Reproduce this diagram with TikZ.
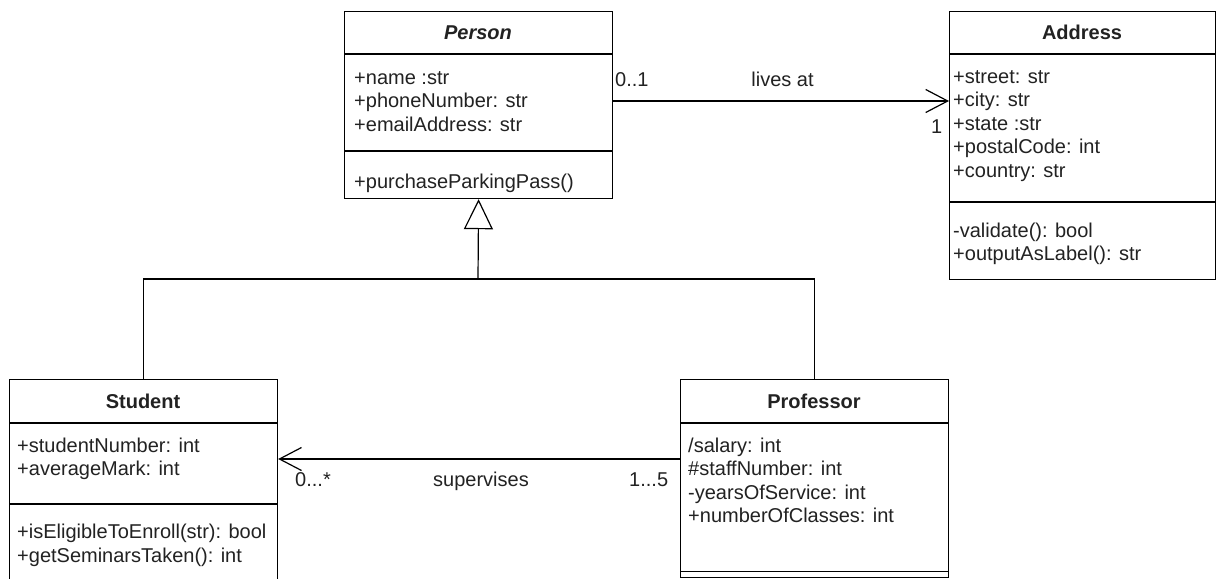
\documentclass[tikz,border=0pt]{standalone}
\usepackage{fontspec}
\setmainfont{Liberation Sans}
\usetikzlibrary{arrows.meta}
\definecolor{ink}{HTML}{222222}
\tikzset{
  classbox/.style={draw=black, line width=1.2pt, inner sep=0pt, anchor=north west},
  divider/.style={draw=black, line width=1.2pt},
  member/.style={anchor=base west, inner sep=0pt, text=ink, font=\fontsize{20}{24}\selectfont},
  classname/.style={anchor=base, inner sep=0pt, text=ink, font=\fontsize{20}{24}\selectfont\bfseries},
  mult/.style={anchor=base west, inner sep=0pt, text=ink, font=\fontsize{20}{24}\selectfont},
  rolename/.style={anchor=base, inner sep=0pt, text=ink, font=\fontsize{20}{24}\selectfont},
  assoc/.style={draw=black, line width=1.2pt, -{Straight Barb[length=22pt,width=23pt]}},
  inherit/.style={draw=black, line width=1.2pt, -{Triangle[open,length=30pt,width=29pt,fill=white]}},
  tree/.style={draw=black, line width=1.2pt},
}
\begin{document}
\begin{tikzpicture}[x=1pt,y=-1pt]
\clip (0,0) rectangle (1217,578);
\fill[white] (0,0) rectangle (1217,578);

% ---------- Person (abstract) ----------
\node[classbox, minimum width=268pt, minimum height=187pt] (person) at (344,11) {};
\draw[divider] (person.west |- 0,54) -- (person.east |- 0,54);
\draw[divider] (person.west |- 0,151) -- (person.east |- 0,151);
\node[classname, font=\fontsize{20}{24}\selectfont\bfseries\itshape] (personT) at (478,40) {Person};
\node[member] (p1) at (354,84) {+name :str};
\node[member] (p2) at (354,107.5) {+phoneNumber: str};
\node[member] (p3) at (354,131) {+emailAddress: str};
\node[member] (p4) at (354,188) {+purchaseParkingPass()};

% ---------- Address ----------
\node[classbox, minimum width=266pt, minimum height=268pt] (address) at (949,11) {};
\draw[divider] (address.west |- 0,54) -- (address.east |- 0,54);
\draw[divider] (address.west |- 0,202) -- (address.east |- 0,202);
\node[classname] (addressT) at (1082,40) {Address};
\node[member] (a1) at (953,83) {+street: str};
\node[member] (a2) at (953,106.5) {+city: str};
\node[member] (a3) at (953,130) {+state :str};
\node[member] (a4) at (953,153.5) {+postalCode: int};
\node[member] (a5) at (953,177) {+country: str};
\node[member] (a6) at (953,237) {-validate(): bool};
\node[member] (a7) at (953,260.5) {+outputAsLabel(): str};

% ---------- Student ----------
\node[classbox, minimum width=268pt, minimum height=240pt] (student) at (9,379) {};
\draw[divider] (student.west |- 0,423) -- (student.east |- 0,423);
\draw[divider] (student.west |- 0,504) -- (student.east |- 0,504);
\node[classname] (studentT) at (143,408) {Student};
\node[member] (s1) at (17,452) {+studentNumber: int};
\node[member] (s2) at (17,475.5) {+averageMark: int};
\node[member] (s3) at (17,538.5) {+isEligibleToEnroll(str): bool};
\node[member] (s4) at (17,562) {+getSeminarsTaken(): int};

% ---------- Professor ----------
\node[classbox, minimum width=268pt, minimum height=198pt] (professor) at (680,379) {};
\draw[divider] (professor.west |- 0,423) -- (professor.east |- 0,423);
\draw[divider] (professor.west |- 0,571.5) -- (professor.east |- 0,571.5);
\node[classname] (professorT) at (814,408) {Professor};
\node[member] (r1) at (688,452) {/salary: int};
\node[member] (r2) at (688,475.5) {\#staffNumber: int};
\node[member] (r3) at (688,499) {-yearsOfService: int};
\node[member] (r4) at (688,522.5) {+numberOfClasses: int};

% ---------- generalization ----------
\coordinate (join) at (478,279);
\draw[tree] (student.north) |- (join) -| (professor.north);
\draw[inherit] (join) -- (person.south);

% ---------- lives at ----------
\draw[assoc] (person.east |- 0,101) -- (address.west |- 0,101);
\node[mult] (m01) at (615,86) {0..1};
\node[rolename] (livesat) at (782.5,86) {lives at};
\node[mult] (m1) at (931,133) {1};

% ---------- supervises ----------
\draw[assoc] (professor.west |- 0,459) -- (student.east |- 0,459);
\node[mult] (m0s) at (295,486) {0...*};
\node[rolename] (supervises) at (481,486) {supervises};
\node[mult] (m15) at (629,486) {1...5};
\end{tikzpicture}
\end{document}
